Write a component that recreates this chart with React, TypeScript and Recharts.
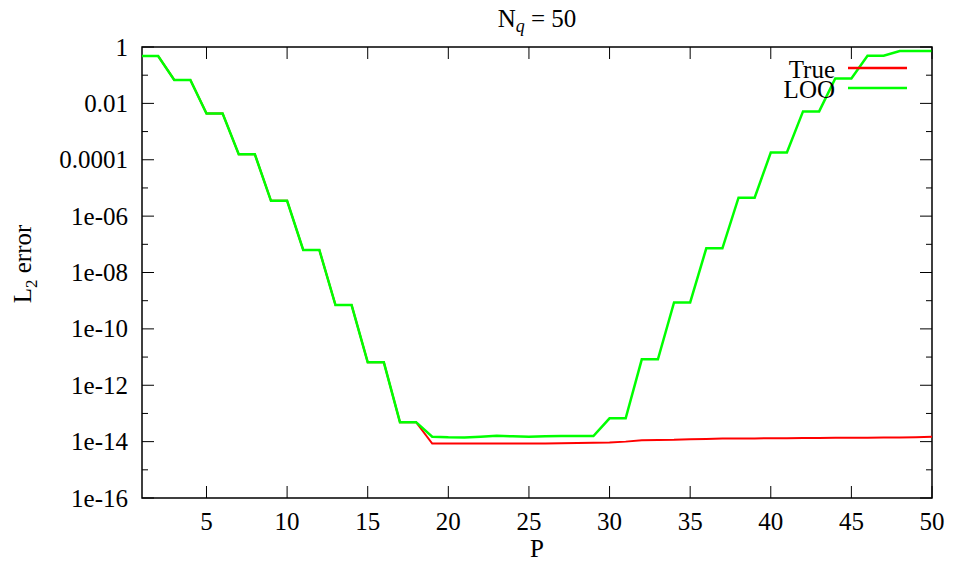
import { Legend, Line, LineChart, ReferenceArea, XAxis, YAxis } from "recharts";

const pValues = [
    1, 2, 3, 4, 5, 6, 7, 8, 9, 10, 11, 12, 13, 14, 15, 16, 17, 18, 19, 20, 21, 22, 23, 24, 25,
    26, 27, 28, 29, 30, 31, 32, 33, 34, 35, 36, 37, 38, 39, 40, 41, 42, 43, 44, 45, 46, 47, 48, 49, 50,
];

const trueError = [
    0.48, 0.48, 0.068, 0.068, 4.4e-3, 4.4e-3, 1.56e-4, 1.56e-4, 3.5e-6, 3.5e-6,
    6.3e-8, 6.3e-8, 7e-10, 7e-10, 6.5e-12, 6.5e-12, 4.9e-14, 4.9e-14, 8.5e-15, 8.5e-15,
    8.5e-15, 8.5e-15, 8.5e-15, 8.5e-15, 8.5e-15, 8.6e-15, 8.7e-15, 8.9e-15, 9.1e-15, 9.3e-15,
    1.0e-14, 1.12e-14, 1.14e-14, 1.16e-14, 1.22e-14, 1.24e-14, 1.28e-14, 1.3e-14, 1.3e-14, 1.32e-14,
    1.33e-14, 1.34e-14, 1.35e-14, 1.36e-14, 1.37e-14, 1.38e-14, 1.39e-14, 1.4e-14, 1.43e-14, 1.5e-14,
];

const looError = [
    0.48, 0.48, 0.068, 0.068, 4.4e-3, 4.4e-3, 1.56e-4, 1.56e-4, 3.5e-6, 3.5e-6,
    6.3e-8, 6.3e-8, 7e-10, 7e-10, 6.5e-12, 6.5e-12, 4.9e-14, 4.9e-14, 1.5e-14, 1.42e-14,
    1.4e-14, 1.5e-14, 1.6e-14, 1.55e-14, 1.5e-14, 1.55e-14, 1.58e-14, 1.57e-14, 1.57e-14, 6.7e-14,
    6.7e-14, 8.3e-12, 8.3e-12, 8.7e-10, 8.7e-10, 7.2e-8, 7.2e-8, 4.5e-6, 4.5e-6, 1.8e-4,
    1.8e-4, 5.2e-3, 5.2e-3, 0.076, 0.076, 0.49, 0.49, 0.72, 0.72, 0.72,
];

const xTicks = [5, 10, 15, 20, 25, 30, 35, 40, 45, 50];
const yMajorTicks = [1e-16, 1e-14, 1e-12, 1e-10, 1e-8, 1e-6, 1e-4, 1e-2, 1];
const yMajorLabels = ["1e-16", "1e-14", "1e-12", "1e-10", "1e-08", "1e-06", "0.0001", "0.01", "1"];
const yMinorTicks = [1e-15, 1e-13, 1e-11, 1e-9, 1e-7, 1e-5, 1e-3, 0.1];
const seriesNames = ["True", "LOO"];
const seriesColors = ["#ff0000", "#00ff00"];

const data = pValues.map((p, i) => ({
    p,
    trueErr: trueError[i],
    looErr: looError[i],
}));

const yTicks = [...yMajorTicks, ...yMinorTicks].sort((a, b) => a - b);

// plot frame, px
const PLOT_LEFT = 142;
const PLOT_RIGHT = 932;
const PLOT_TOP = 47;
const PLOT_BOTTOM = 498;

const FONT = "Liberation Serif, DejaVu Serif, serif";
const FONT_SIZE = 25;
const textStyle = { fontFamily: FONT, fontSize: FONT_SIZE };

function YTick({ y, payload }: any) {
    const v = payload.value;
    const idx = yMajorTicks.findIndex(
        (t) => Math.abs(Math.log10(t) - Math.log10(v)) < 1e-6,
    );
    const len = idx >= 0 ? 12 : 6;
    return (
        <g>
            <line x1={PLOT_LEFT} x2={PLOT_LEFT + len} y1={y} y2={y} stroke="#000" strokeWidth={1} />
            <line x1={PLOT_RIGHT} x2={PLOT_RIGHT - len} y1={y} y2={y} stroke="#000" strokeWidth={1} />
            {idx >= 0 && (
                <text x={PLOT_LEFT - 14} y={y} dy={8.5} textAnchor="end" style={textStyle} fill="#000">
                    {yMajorLabels[idx]}
                </text>
            )}
        </g>
    );
}

function XTick({ x, payload }: any) {
    return (
        <g>
            <line x1={x} x2={x} y1={PLOT_BOTTOM} y2={PLOT_BOTTOM - 12} stroke="#000" strokeWidth={1} />
            <line x1={x} x2={x} y1={PLOT_TOP} y2={PLOT_TOP + 12} stroke="#000" strokeWidth={1} />
            <text x={x} y={530} textAnchor="middle" style={textStyle} fill="#000">
                {payload.value}
            </text>
        </g>
    );
}

function ChartLegend() {
    return (
        <svg width={955} height={110}>
            {seriesNames.map((name, i) => (
                <g key={name}>
                    <text x={835} y={78 + i * 20} textAnchor="end" style={textStyle} fill="#000">
                        {name}
                    </text>
                    <line
                        x1={848}
                        x2={907}
                        y1={68 + i * 20}
                        y2={68 + i * 20}
                        stroke={seriesColors[i]}
                        strokeWidth={2.5}
                    />
                </g>
            ))}
        </svg>
    );
}

export default function App() {
    return (
        <div
            style={{
                position: "absolute",
                top: 0,
                left: 0,
                width: 955,
                height: 565,
                background: "#fff",
                fontFamily: FONT,
            }}
        >
            <div
                style={{
                    position: "absolute",
                    top: 6,
                    left: 437,
                    width: 200,
                    textAlign: "center",
                    fontSize: FONT_SIZE,
                    lineHeight: "26px",
                    zIndex: 2,
                }}
            >
                N
                <span style={{ fontStyle: "italic", fontSize: 18, position: "relative", top: 5 }}>q</span>
                {" = 50"}
            </div>

            <LineChart
                width={955}
                height={565}
                data={data}
                margin={{ top: PLOT_TOP, right: 955 - PLOT_RIGHT, bottom: 27, left: 82 }}
            >
                <XAxis
                    dataKey="p"
                    type="number"
                    domain={[1, 50]}
                    ticks={xTicks}
                    height={40}
                    axisLine={false}
                    tickLine={false}
                    tick={<XTick />}
                    interval={0}
                    label={{
                        content: () => (
                            <text x={537} y={557} textAnchor="middle" style={textStyle} fill="#000">
                                P
                            </text>
                        ),
                    }}
                />
                <YAxis
                    type="number"
                    scale="log"
                    domain={[1e-16, 1]}
                    allowDataOverflow
                    ticks={yTicks}
                    width={60}
                    axisLine={false}
                    tickLine={false}
                    tick={<YTick />}
                    interval={0}
                    label={{
                        content: () => (
                            <text
                                transform="translate(31,264) rotate(-90)"
                                textAnchor="middle"
                                style={textStyle}
                                fill="#000"
                            >
                                L
                                <tspan dy={6} style={{ fontSize: 17 }}>2</tspan>
                                <tspan dy={-6}> error</tspan>
                            </text>
                        ),
                    }}
                />
                <ReferenceArea
                    x1={1}
                    x2={50}
                    y1={1e-16}
                    y2={1}
                    fill="none"
                    stroke="#000"
                    strokeWidth={1.5}
                    ifOverflow="visible"
                />
                <Legend
                    layout="horizontal"
                    verticalAlign="middle"
                    align="center"
                    wrapperStyle={{ position: "absolute", top: 0, left: 0, width: 955, height: 110 }}
                    content={() => <ChartLegend />}
                />
                <Line
                    type="linear"
                    dataKey="trueErr"
                    name={seriesNames[0]}
                    stroke={seriesColors[0]}
                    strokeWidth={2}
                    dot={false}
                    isAnimationActive={false}
                />
                <Line
                    type="linear"
                    dataKey="looErr"
                    name={seriesNames[1]}
                    stroke={seriesColors[1]}
                    strokeWidth={2.5}
                    dot={false}
                    isAnimationActive={false}
                />
            </LineChart>
        </div>
    );
}
